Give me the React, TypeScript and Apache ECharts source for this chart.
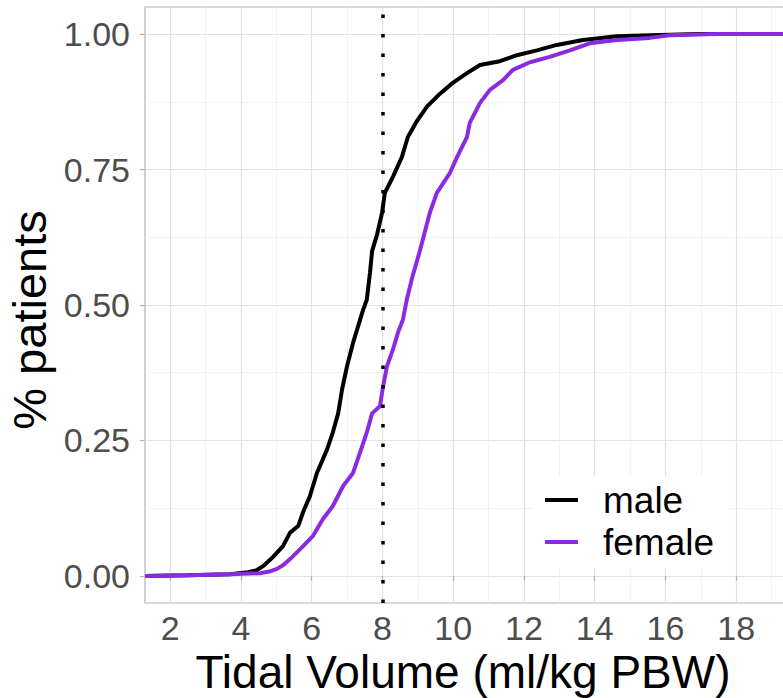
import React, { useEffect, useRef } from 'react';
import * as echarts from 'echarts';

// ECDF of tidal volume (ml/kg PBW) by sex
const maleTV = [1.29, 2.5, 3.69, 4.2, 4.43, 4.63, 4.91, 5.19, 5.39, 5.62, 5.76, 5.95, 6.15, 6.44, 6.6, 6.75, 6.86, 7.0, 7.17, 7.31, 7.45, 7.56, 7.65, 7.71, 7.85, 7.99, 8.07, 8.3, 8.55, 8.72, 8.98, 9.26, 9.63, 9.99, 10.39, 10.76, 11.32, 11.8, 12.37, 12.93, 13.67, 14.63, 15.56, 16.97, 19.55];
const maleCDF = [0, 0.001, 0.003, 0.007, 0.01, 0.018, 0.035, 0.055, 0.08, 0.092, 0.118, 0.147, 0.19, 0.234, 0.265, 0.3, 0.344, 0.387, 0.43, 0.46, 0.49, 0.51, 0.56, 0.6, 0.63, 0.67, 0.707, 0.737, 0.773, 0.81, 0.84, 0.866, 0.89, 0.91, 0.928, 0.943, 0.95, 0.961, 0.97, 0.98, 0.989, 0.996, 0.998, 1.0, 1.0];

const femaleTV = [1.29, 2.5, 3.69, 4.54, 4.8, 5.02, 5.2, 5.39, 5.76, 6.04, 6.32, 6.6, 6.89, 7.17, 7.37, 7.56, 7.71, 7.93, 8.02, 8.13, 8.3, 8.44, 8.58, 8.69, 8.84, 9.06, 9.34, 9.54, 9.91, 10.11, 10.39, 10.47, 10.76, 11.04, 11.41, 11.69, 12.17, 12.73, 13.3, 13.86, 14.63, 15.56, 16.12, 17.45, 19.55];
const femaleCDF = [0, 0.001, 0.003, 0.005, 0.008, 0.013, 0.02, 0.031, 0.055, 0.074, 0.105, 0.129, 0.166, 0.19, 0.228, 0.265, 0.3, 0.313, 0.35, 0.387, 0.418, 0.449, 0.473, 0.51, 0.55, 0.6, 0.67, 0.707, 0.744, 0.773, 0.81, 0.836, 0.873, 0.897, 0.915, 0.934, 0.948, 0.958, 0.97, 0.983, 0.989, 0.993, 0.998, 1.0, 1.0];

const seriesNames = ['male', 'female'];
const xMajorTicks = [2, 4, 6, 8, 10, 12, 14, 16, 18];
const xMinorTicks = [3, 5, 7, 9, 11, 13, 15, 17, 19];
const yMajorTicks = [0, 0.25, 0.5, 0.75, 1];
const yTickLabels = ['0.00', '0.25', '0.50', '0.75', '1.00'];
const yMinorTicks = [0.125, 0.375, 0.625, 0.875];
const cutoffTV = 8;

const X_MIN = 1.29;
const X_MAX = 19.55;
const Y_MIN = -0.05;
const Y_MAX = 1.05;

const zip = (xs: number[], ys: number[]) => xs.map((x, i) => [x, ys[i]]);

export default function App() {
  const ref = useRef<HTMLDivElement>(null);
  useEffect(() => {
    document.body.style.margin = '0';
    const chart = echarts.init(ref.current!, null, { renderer: 'svg' });
    const font = '"Liberation Sans", Arial, Helvetica, sans-serif';
    const tickColor = '#B3B3B3';
    const major = { show: true, lineStyle: { color: '#E2E2E2', width: 1.2 } };
    const minor = { show: true, lineStyle: { color: '#EFEFEF', width: 0.8 } };
    chart.setOption({
      animation: false,
      backgroundColor: '#ffffff',
      grid: {
        left: 145, top: 7, right: -8, bottom: 95,
        outerBoundsMode: 'none', containLabel: false,
        show: true, borderColor: '#B3B3B3', borderWidth: 1.2, backgroundColor: 'transparent',
      },
      xAxis: [
        {
          type: 'value', min: X_MIN, max: X_MAX, position: 'bottom',
          axisLine: { show: false },
          axisTick: { show: true, customValues: xMajorTicks, length: 5, lineStyle: { color: tickColor, width: 1.2 } },
          axisLabel: { customValues: xMajorTicks, margin: 8, fontSize: 34, lineHeight: 34, color: '#4D4D4D', fontFamily: font },
          splitLine: major,
          name: 'Tidal Volume (ml/kg PBW)', nameLocation: 'middle', nameGap: 47, nameMoveOverlap: false,
          nameTextStyle: { fontSize: 46, lineHeight: 44, color: '#000', fontFamily: font, padding: [0, 10, 0, 0] },
        },
        {
          type: 'value', min: X_MIN, max: X_MAX, position: 'bottom',
          axisLine: { show: false },
          axisTick: { show: false, customValues: xMinorTicks },
          axisLabel: { show: false, customValues: xMinorTicks },
          splitLine: minor,
        },
      ],
      yAxis: [
        {
          type: 'value', min: Y_MIN, max: Y_MAX,
          axisLine: { show: false },
          axisTick: { show: true, customValues: yMajorTicks, length: 5, lineStyle: { color: tickColor, width: 1.2 } },
          axisLabel: {
            customValues: yMajorTicks, margin: 15, fontSize: 34, color: '#4D4D4D', fontFamily: font,
            formatter: (v: number) => {
              const i = yMajorTicks.findIndex((t) => Math.abs(t - v) < 1e-9);
              return i >= 0 ? yTickLabels[i] : '';
            },
          },
          splitLine: major,
          name: '% patients', nameLocation: 'middle', nameGap: 89,
          nameTextStyle: { fontSize: 47, color: '#000', fontFamily: font, padding: [0, 30, 0, 0] },
        },
        {
          type: 'value', min: Y_MIN, max: Y_MAX,
          axisLine: { show: false },
          axisTick: { show: false, customValues: yMinorTicks },
          axisLabel: { show: false, customValues: yMinorTicks },
          splitLine: minor,
        },
      ],
      legend: {
        orient: 'vertical', left: 533, top: 476,
        backgroundColor: '#ffffff', padding: [4, 14, 6, 12],
        itemWidth: 33, itemHeight: 4, itemGap: 2, icon: 'rect',
        textStyle: { fontSize: 37, fontFamily: font, color: '#000', padding: [0, 0, 0, 20], lineHeight: 40 },
        data: seriesNames,
      },
      series: [
        {
          name: seriesNames[0], type: 'line', xAxisIndex: 0, yAxisIndex: 0,
          showSymbol: false, symbol: 'none',
          color: '#000000',
          lineStyle: { color: '#000000', width: 4 },
          data: zip(maleTV, maleCDF),
        },
        {
          name: seriesNames[1], type: 'line', xAxisIndex: 0, yAxisIndex: 0,
          showSymbol: false, symbol: 'none',
          color: '#8A2BE2',
          lineStyle: { color: '#8A2BE2', width: 4 },
          data: zip(femaleTV, femaleCDF),
          markLine: {
            silent: true, symbol: 'none', label: { show: false },
            lineStyle: { color: '#000', type: [3.5, 16], width: 3.5, cap: 'butt' },
            data: [{ xAxis: cutoffTV }],
          },
        },
      ],
    });
    return () => chart.dispose();
  }, []);
  return (
    <div
      ref={ref}
      style={{ position: 'absolute', left: 0, top: 0, width: 783, height: 698, overflow: 'hidden' }}
    />
  );
}
